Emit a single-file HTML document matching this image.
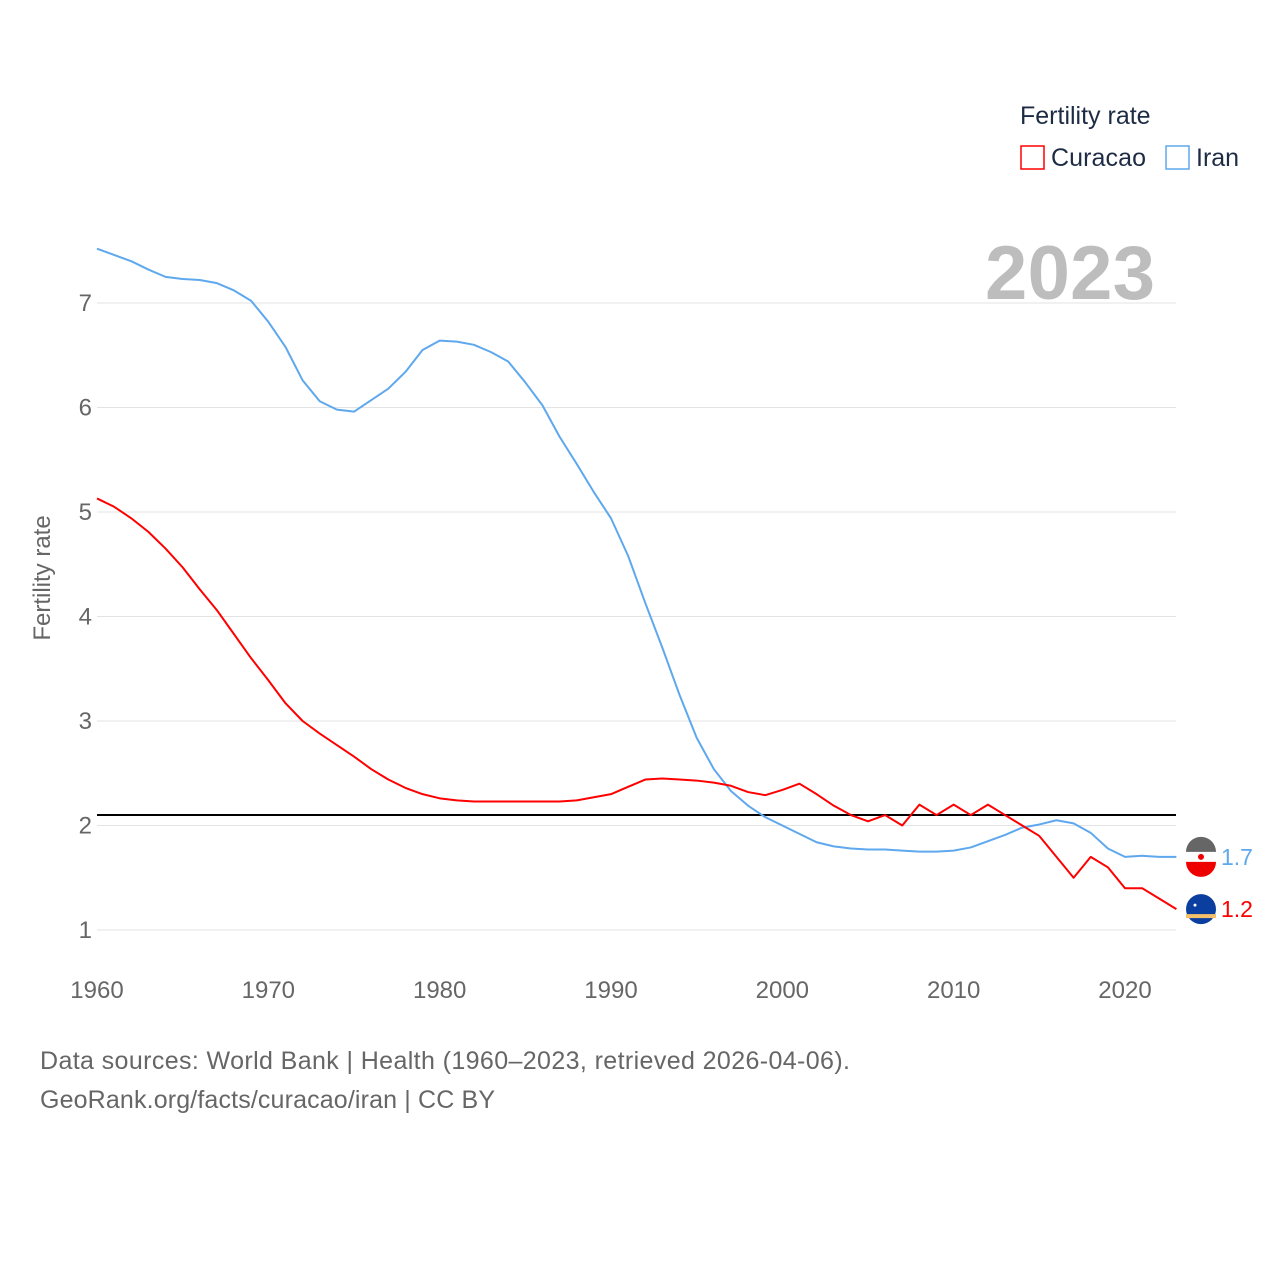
<!DOCTYPE html>
<html><head><meta charset="utf-8"><style>
html,body{margin:0;padding:0;background:#fff;}
body{width:1280px;height:1280px;overflow:hidden;font-family:"Liberation Sans",sans-serif;}
</style></head><body>
<svg id="chart" width="1280" height="1280" xmlns="http://www.w3.org/2000/svg" font-family="Liberation Sans, sans-serif">
<text x="1020" y="124" font-size="25" fill="#1d2b45">Fertility rate</text>
<g><rect x="1021" y="146" width="23" height="23" fill="none" stroke="#f00" stroke-width="1.5"/><text x="1051" y="166" font-size="25" fill="#1d2b45" textLength="95">Curacao</text></g>
<g><rect x="1166" y="146" width="23" height="23" fill="none" stroke="#5ea8ee" stroke-width="1.5"/><text x="1196" y="166" font-size="25" fill="#1d2b45">Iran</text></g>
<text x="1155" y="299" font-size="76" font-weight="bold" fill="#bdbdbd" text-anchor="end" textLength="170">2023</text>
<text transform="translate(50,578) rotate(-90)" font-size="24" fill="#666" text-anchor="middle">Fertility rate</text>
<g id="grid"></g><g id="series"></g>
<text x="40" y="1069" font-size="25" fill="#666" textLength="810">Data sources: World Bank | Health (1960–2023, retrieved 2026-04-06).</text>
<text x="40" y="1108" font-size="25" fill="#666" textLength="455">GeoRank.org/facts/curacao/iran | CC BY</text>
</svg>
<script>
const years = Array.from({length:64},(_,i)=>1960+i);
const iran = [7.52,7.46,7.40,7.32,7.25,7.23,7.22,7.19,7.12,7.02,6.82,6.58,6.26,6.06,5.98,5.96,6.07,6.18,6.34,6.55,6.64,6.63,6.60,6.53,6.44,6.24,6.02,5.72,5.46,5.19,4.94,4.58,4.13,3.70,3.25,2.84,2.54,2.33,2.19,2.08,2.00,1.92,1.84,1.80,1.78,1.77,1.77,1.76,1.75,1.75,1.76,1.79,1.85,1.91,1.98,2.01,2.05,2.02,1.93,1.78,1.70,1.71,1.70,1.70];
const curacao = [5.13,5.05,4.94,4.81,4.65,4.47,4.26,4.06,3.83,3.60,3.39,3.17,3.00,2.88,2.77,2.66,2.54,2.44,2.36,2.30,2.26,2.24,2.23,2.23,2.23,2.23,2.23,2.23,2.24,2.27,2.30,2.37,2.44,2.45,2.44,2.43,2.41,2.38,2.32,2.29,2.34,2.40,2.30,2.19,2.10,2.04,2.10,2.00,2.20,2.10,2.20,2.10,2.20,2.10,2.00,1.90,1.70,1.50,1.70,1.60,1.40,1.40,1.30,1.20];
const yTicks = [1,2,3,4,5,6,7];
const xTicks = [1960,1970,1980,1990,2000,2010,2020];
const refValue = 2.1;
const NS="http://www.w3.org/2000/svg";
const X = y => 97 + (y-1960)*(1028/60);
const Y = v => 930 - (v-1)*104.5;
const grid=document.getElementById('grid'), ser=document.getElementById('series');
function mk(tag,attrs,parent){const e=document.createElementNS(NS,tag);for(const k in attrs)e.setAttribute(k,attrs[k]);parent.appendChild(e);return e;}
yTicks.forEach(t=>{
  const l=mk('line',{x1:97,x2:1176,y1:Y(t),y2:Y(t),stroke:'#e3e3e3','stroke-width':1},grid);
  
  
  const tx=mk('text',{x:92,y:Y(t)+8,'font-size':24,fill:'#666','text-anchor':'end'},grid);tx.textContent=t;
  
  
});
xTicks.forEach(t=>{
  const tx=mk('text',{x:X(t),y:998,'font-size':24,fill:'#666','text-anchor':'middle'},grid);tx.textContent=t;
  
  
});
const ref=mk('line',{x1:97,x2:1176,y1:Y(refValue),y2:Y(refValue),stroke:'#000','stroke-width':2},grid);


function line(vals,color,name){
  const p=mk('polyline',{points:vals.map((v,i)=>X(years[i])+','+Y(v)).join(' '),fill:'none',stroke:color,'stroke-width':2,'stroke-linejoin':'round'},ser);
  
  
}
line(iran,'#5ea8ee','iran-line');
line(curacao,'#f00','curacao-line');
function endLabel(vals,color,name,flag){
  const v=vals[vals.length-1], y=Y(v);
  const g=mk('g',{},ser);
  
  
  if(flag==='iran'){
    mk('circle',{cx:1201,cy:y,r:15,fill:'#fff'},g);
    mk('path',{d:`M1186 ${y-5} A15 15 0 0 1 1216 ${y-5} Z`,fill:'#666'},g);
    mk('path',{d:`M1186 ${y+5} A15 15 0 0 0 1216 ${y+5} Z`,fill:'#e00'},g);
    mk('circle',{cx:1201,cy:y,r:3,fill:'#e00'},g);
  } else {
    mk('circle',{cx:1201,cy:y,r:15,fill:'#0a3fa0'},g);
    mk('rect',{x:1186,y:y+5,width:30,height:4,fill:'#f4c06a'},g);
    mk('circle',{cx:1195,cy:y-4,r:1.5,fill:'#fff'},g);
  }
  const t=mk('text',{x:1221,y:y+8,'font-size':23,fill:color},g);t.textContent=v.toFixed(1);
}
endLabel(iran,'#5ea8ee','iran-end-label','iran');
endLabel(curacao,'#f00','curacao-end-label','curacao');
</script>
</body></html>
